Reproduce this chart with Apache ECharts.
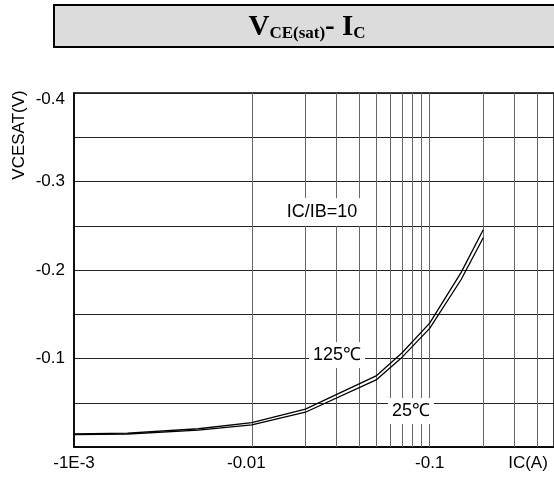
<!DOCTYPE html>
<html>
<head>
<meta charset="utf-8">
<script src="https://cdn.jsdelivr.net/npm/echarts@6/dist/echarts.min.js"></script>
<style>
html,body{margin:0;padding:0;background:#fff;}
#chart{width:554px;height:479px;}
</style>
</head>
<body>
<div id="chart"></div>
<script>
// Collector current magnitude |IC| (A)
const currentA = [0.001, 0.002, 0.005, 0.01, 0.02, 0.05, 0.07, 0.1, 0.15, 0.2];
// |VCE(sat)| (V)
const vce125 = [0.0148, 0.0157, 0.0206, 0.0275, 0.0428, 0.0803, 0.1065, 0.140, 0.197, 0.2455];
const vce25  = [0.0140, 0.0147, 0.0191, 0.0250, 0.0393, 0.0758, 0.1015, 0.134, 0.189, 0.2365];
// vertical grid line values
const xGridValues = [0.002,0.003,0.004,0.005,0.006,0.007,0.008,0.009,0.01,
                     0.02,0.03,0.04,0.05,0.06,0.07,0.08,0.09,0.1,
                     0.2,0.3,0.4];
const xTickValues = [0.001, 0.01, 0.1];
const xTickLabels = ['-1E-3', '-0.01', '-0.1'];
const yTickValues = [0.1, 0.2, 0.3, 0.4];
const yTickLabels = ['-0.1', '-0.2', '-0.3', '-0.4'];

const FONT = '"Liberation Sans", Arial, sans-serif';
const SERIF = '"Liberation Serif", "Times New Roman", serif';
const chart = echarts.init(document.getElementById('chart'), null, {renderer: 'canvas'});

function near(a, b) { return Math.abs(a - b) < 1e-9 * Math.max(1, Math.abs(b)); }

const option = {
  animation: false,
  backgroundColor: '#fff',
  grid: {left: 74, right: 0, top: 93, bottom: 32, show: true, borderColor: '#000', borderWidth: 1.5},
  xAxis: {
    type: 'log', logBase: 10, min: 0.001, max: 0.5,
    axisLine: {show: true, lineStyle: {color: '#000', width: 1.5}},
    axisTick: {show: false},
    splitLine: {show: false},
    axisLabel: {
      color: '#000', fontFamily: FONT, fontSize: 17, margin: 8,
      showMaxLabel: false,
      formatter: function (v) {
        for (let i = 0; i < xTickValues.length; i++) {
          if (near(v, xTickValues[i])) return i === 1 ? '{l|' + xTickLabels[i] + '}' : xTickLabels[i];
        }
        return '';
      },
      rich: {l: {fontFamily: FONT, fontSize: 17, color: '#000', padding: [0, 11, 0, 0]}}
    }
  },
  yAxis: {
    type: 'value', min: 0, max: 0.4, interval: 0.05,
    axisLine: {show: true, lineStyle: {color: '#000', width: 1.5}},
    axisTick: {show: false},
    splitLine: {show: true, lineStyle: {color: '#222', width: 1}},
    axisLabel: {
      color: '#000', fontFamily: FONT, fontSize: 17, margin: 9,
      formatter: function (v) {
        for (let i = 0; i < yTickValues.length; i++) {
          if (near(v, yTickValues[i])) return i === yTickValues.length - 1 ? '{top|' + yTickLabels[i] + '}' : yTickLabels[i];
        }
        return '';
      },
      rich: {top: {fontFamily: FONT, fontSize: 17, color: '#000', padding: [12, 0, 0, 0]}}
    }
  },
  series: [
    {
      type: 'line', name: 'grid', data: [[0.001, 0]], showSymbol: false,
      lineStyle: {opacity: 0}, silent: true, z: 1,
      markLine: {
        silent: true, symbol: ['none', 'none'], label: {show: false},
        lineStyle: {color: '#666', width: 1, type: 'solid'},
        emphasis: {disabled: true},
        data: xGridValues.map(v => ({xAxis: v}))
      }
    },
    {
      type: 'line', name: '125℃', showSymbol: false, smooth: false, z: 6,
      lineStyle: {color: '#000', width: 1.3},
      data: currentA.map((x, i) => [x, vce125[i]])
    },
    {
      type: 'line', name: '25℃', showSymbol: false, smooth: false, z: 6,
      lineStyle: {color: '#000', width: 1.3},
      data: currentA.map((x, i) => [x, vce25[i]])
    }
  ],
  graphic: [
    {type: 'rect', z: 10, shape: {x: 54, y: 5, width: 520, height: 42},
     style: {fill: '#dcdcdc', stroke: '#000', lineWidth: 2}},
    {type: 'text', z: 11, x: 307, y: 27,
     style: {
       text: '{v|V}{s|CE(sat)}{v|- I}{s|C}', align: 'center', verticalAlign: 'middle',
       rich: {
         v: {fontFamily: SERIF, fontWeight: 'bold', fontSize: 29, fill: '#000', verticalAlign: 'bottom', lineHeight: 30},
         s: {fontFamily: SERIF, fontWeight: 'bold', fontSize: 17, fill: '#000', verticalAlign: 'bottom', lineHeight: 17}
       }
     }},
    {type: 'text', z: 20, x: 19, y: 135, rotation: Math.PI / 2,
     style: {text: 'VCESAT(V)', font: '17px ' + FONT, fill: '#000', align: 'center', verticalAlign: 'middle'}},
    {type: 'text', z: 20, x: 528, y: 463,
     style: {text: 'IC(A)', font: '17px ' + FONT, fill: '#000', align: 'center', verticalAlign: 'middle'}},
    {type: 'text', z: 20, x: 322, y: 212,
     style: {text: 'IC/IB=10', font: '18px ' + FONT, fill: '#000', align: 'center', verticalAlign: 'middle', backgroundColor: '#fff', padding: [5, 4]}},
    {type: 'text', z: 20, x: 337, y: 355,
     style: {text: '125℃', font: '18px ' + FONT, fill: '#000', align: 'center', verticalAlign: 'middle', backgroundColor: '#fff', padding: [4, 4]}},
    {type: 'text', z: 20, x: 411, y: 411,
     style: {text: '25℃', font: '18px ' + FONT, fill: '#000', align: 'center', verticalAlign: 'middle', backgroundColor: '#fff', padding: [4, 4]}}
  ]
};
chart.setOption(option);
</script>
</body>
</html>
